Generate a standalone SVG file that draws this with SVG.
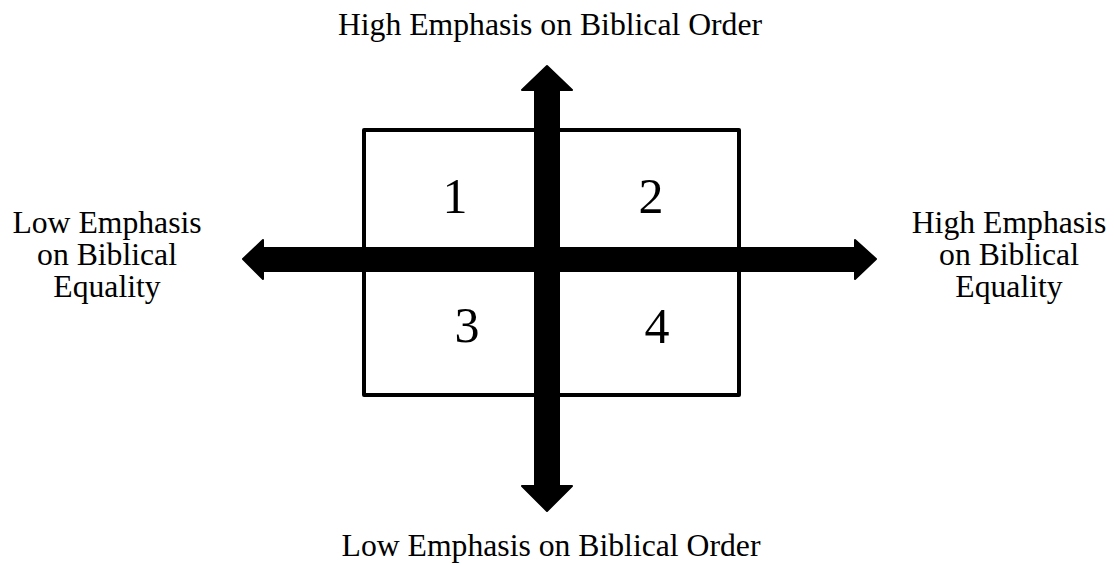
<svg xmlns="http://www.w3.org/2000/svg" width="1114" height="566" viewBox="0 0 1114 566">
<style>
text{font-family:"Liberation Serif","Times New Roman",serif;fill:#000}
.lbl{font-size:31.7px;text-anchor:middle}
.num{font-size:50px;text-anchor:middle}
.box{fill:none;stroke:#000;stroke-width:4;stroke-linejoin:round}
.arr{fill:#000;stroke:#000;stroke-width:2;stroke-linejoin:round}
</style>
<rect width="1114" height="566" fill="#fff"/>
<g id="quadrant-box">
<rect class="box" x="364" y="130" width="375" height="265"/>
</g>
<g id="connectors">
<polygon id="vertical-axis" class="arr" points="547,66 572,90 559,90 559,486 572,486 547,511 522,486 535,486 535,90 522,90"/>
<polygon id="horizontal-axis" class="arr" points="243,259 263,240 263,248 855,248 855,240 876,259 855,279 855,271 263,271 263,279"/>
</g>
<g id="q1"><text class="num" x="455" y="213">1</text></g>
<g id="q2"><text class="num" x="651" y="213">2</text></g>
<g id="q3"><text class="num" x="467" y="342">3</text></g>
<g id="q4"><text class="num" x="657" y="343">4</text></g>
<g id="label-top"><text class="lbl" x="550" y="35">High Emphasis on Biblical Order</text></g>
<g id="label-bottom"><text class="lbl" x="551" y="556">Low Emphasis on Biblical Order</text></g>
<g id="label-left"><text class="lbl" x="107" y="233">Low Emphasis</text><text class="lbl" x="107" y="265">on Biblical</text><text class="lbl" x="107" y="297">Equality</text></g>
<g id="label-right"><text class="lbl" x="1009" y="233">High Emphasis</text><text class="lbl" x="1009" y="265">on Biblical</text><text class="lbl" x="1009" y="297">Equality</text></g>
</svg>
